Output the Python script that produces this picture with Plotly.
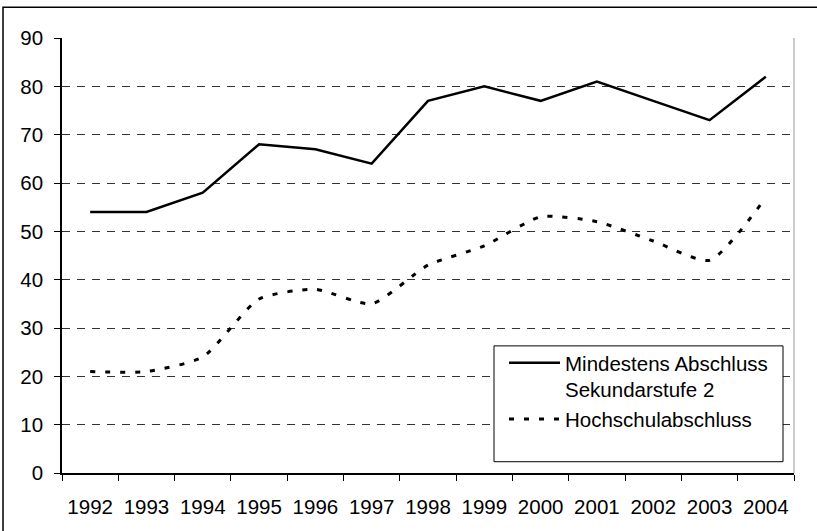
import plotly.graph_objects as go

years = ["1992", "1993", "1994", "1995", "1996", "1997", "1998",
         "1999", "2000", "2001", "2002", "2003", "2004"]
sek2 = [54, 54, 58, 68, 67, 64, 77, 80, 77, 81, 77, 73, 82]
hochschule = [21, 21, 24, 36, 38, 35, 43, 47, 53, 52, 48, 44, 57]
y_ticks = [0, 10, 20, 30, 40, 50, 60, 70, 80, 90]

FONT = "Liberation Sans, Arial, sans-serif"
FS = 20.5

fig = go.Figure()
fig.add_trace(go.Scatter(
    x=years, y=sek2, mode="lines",
    name="Mindestens Abschluss<br>Sekundarstufe 2",
    line=dict(color="black", width=2.5),
))
fig.add_trace(go.Scatter(
    x=years, y=hochschule, mode="lines",
    name="Hochschulabschluss<br> ",
    line=dict(color="black", width=3, dash="5px,10px", shape="spline", smoothing=0.6),
))

PL, PR, PT, PB = 62, 794, 37.7, 473.3
PW, PH = PR - PL, PB - PT


def px(x):
    return (x - PL) / PW


def py(y):
    return (PB - y) / PH


fig.update_layout(
    width=817, height=531,
    margin=dict(l=PL, r=817 - PR, t=PT, b=531 - PB),
    paper_bgcolor="white", plot_bgcolor="white",
    font=dict(family=FONT, size=FS, color="black"),
    showlegend=True,
    legend=dict(
        x=px(504), y=py(343),
        xanchor="left", yanchor="top",
        bgcolor="rgba(0,0,0,0)", borderwidth=0,
        font=dict(family=FONT, size=FS, color="black"),
        valign="top", itemwidth=51, tracegroupgap=6,
    ),
    xaxis=dict(
        type="category", tickson="boundaries", ticks="outside", ticklen=6,
        range=[-0.5, 12.5],
        tickcolor="black", showline=True, linecolor="black", linewidth=1.5,
        showgrid=False, zeroline=False, ticklabelstandoff=15,
    ),
    yaxis=dict(
        range=[0, 90], tickvals=y_ticks, ticks="outside", ticklen=6,
        tickcolor="black", showline=True, linecolor="black", linewidth=1.5,
        showgrid=True, gridcolor="#333", gridwidth=1, griddash="8px,7px",
        zeroline=False, ticklabelstandoff=7,
    ),
    shapes=[
        # outer chart border
        dict(type="rect", xref="paper", yref="paper",
             x0=px(3), x1=px(830), y0=py(540), y1=py(7),
             line=dict(color="black", width=1.5), layer="below"),
        # plot area right border
        dict(type="line", xref="paper", yref="paper", x0=1, x1=1, y0=0, y1=1,
             line=dict(color="#999", width=1)),
        # legend box
        dict(type="rect", xref="paper", yref="paper",
             x0=px(494), x1=px(783), y0=py(462), y1=py(346),
             line=dict(color="black", width=1), fillcolor="white", layer="above"),
    ],
)

fig.write_html(
    "out.html",
    config={"displayModeBar": False},
    post_script="document.body.style.margin='0';document.body.style.overflow='hidden';",
)
